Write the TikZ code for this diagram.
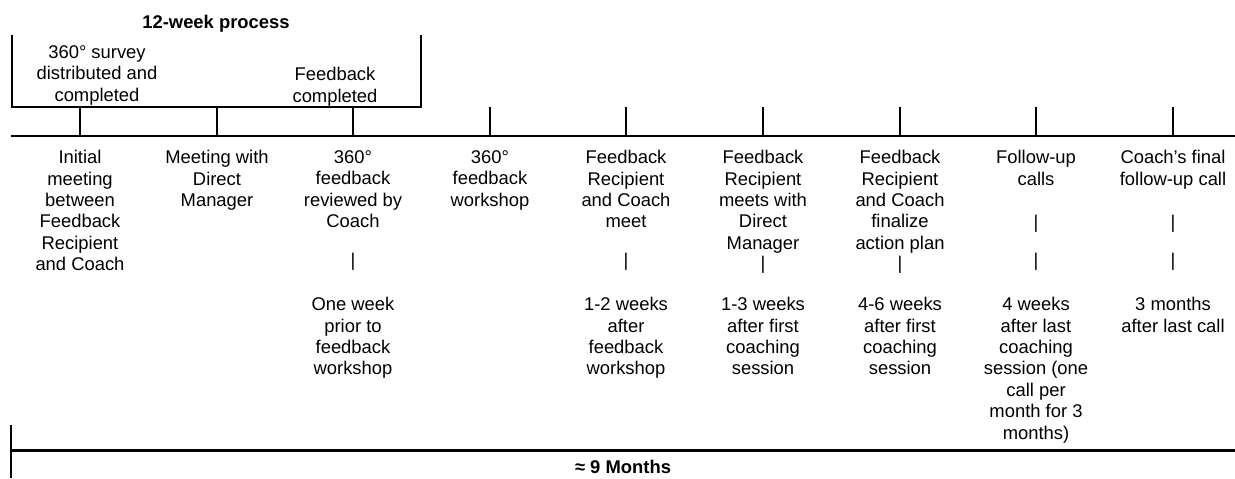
\documentclass[tikz,border=0pt]{standalone}
\usepackage{fontspec}
\setmainfont{Liberation Sans}

\begin{document}
\begin{tikzpicture}[x=0.5pt, y=-0.5pt,
	every node/.style={font=\fontsize{9.2}{10.7}\selectfont, inner sep=0pt, align=center},
	head/.style={font=\fontsize{9.2}{10.7}\selectfont\bfseries},
	rule/.style={line width=1pt}, axis/.style={line width=1.2pt}]
	\useasboundingbox (0,0) rectangle (1235,478);
	\node[head, anchor=north] (span) at (216,15) {12-week process};
	\draw[rule] (12,35) -- (12,107) -- (421,107) -- (421,35);
	\node[anchor=north] (survey) at (97,45) {360° survey\\distributed and\\completed};
	\node[anchor=north] (done) at (335,67) {Feedback\\completed};
	\draw[axis] (11,136) -- (1235,136);
	\foreach \x in {80,217,353,490,626,763,900,1036,1173}
		\draw[rule] (\x,107) -- (\x,136);
	\node[anchor=north] (ev1) at (80,150) {Initial\\meeting\\between\\Feedback\\Recipient\\and Coach};
	\node[anchor=north] (ev2) at (217,150) {Meeting with\\Direct\\Manager};
	\node[anchor=north] (ev3) at (353,150) {360°\\feedback\\reviewed by\\Coach};
	\node[anchor=north] (ev4) at (490,150) {360°\\feedback\\workshop};
	\node[anchor=north] (ev5) at (626,150) {Feedback\\Recipient\\and Coach\\meet};
	\node[anchor=north] (ev6) at (763,150) {Feedback\\Recipient\\meets with\\Direct\\Manager};
	\node[anchor=north] (ev7) at (900,150) {Feedback\\Recipient\\and Coach\\finalize\\action plan};
	\node[anchor=north] (ev8) at (1036,150) {Follow-up\\calls};
	\node[anchor=north] (ev9) at (1173,150) {Coach’s final\\follow-up call};
	\node (bar3) at (353,262) {|};
	\node (bar5) at (626,262) {|};
	\node (bar6) at (763,265) {|};
	\node (bar7) at (900,265) {|};
	\node (bar8a) at (1036,224) {|};
	\node (bar8b) at (1036,262) {|};
	\node (bar9a) at (1173,224) {|};
	\node (bar9b) at (1173,262) {|};
	\node[anchor=north] (when3) at (353,297) {One week\\prior to\\feedback\\workshop};
	\node[anchor=north] (when5) at (626,297) {1-2 weeks\\after\\feedback\\workshop};
	\node[anchor=north] (when6) at (763,297) {1-3 weeks\\after first\\coaching\\session};
	\node[anchor=north] (when7) at (900,297) {4-6 weeks\\after first\\coaching\\session};
	\node[anchor=north] (when8) at (1036,297) {4 weeks\\after last\\coaching\\session (one\\call per\\month for 3\\months)};
	\node[anchor=north] (when9) at (1173,297) {3 months\\after last call};
	\draw[rule] (11,425) -- (11,478);
	\draw[axis] (11,450.5) -- (1235,450.5);
	\node[head, anchor=north] (total) at (623,460) {≈ 9 Months};
\end{tikzpicture}
\end{document}
